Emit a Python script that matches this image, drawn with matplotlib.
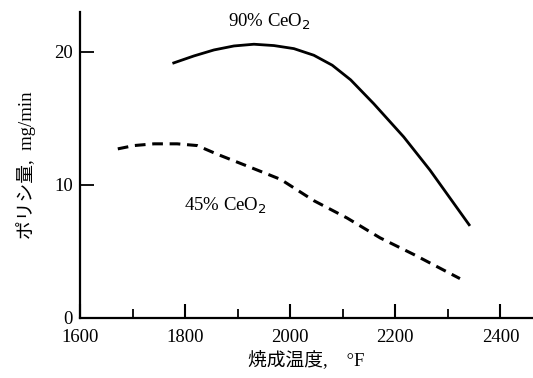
import numpy as np
import matplotlib
matplotlib.use("Agg")
import matplotlib.pyplot as plt
from matplotlib.ticker import MultipleLocator

plt.rcParams['font.family'] = ['Liberation Serif', 'Noto Sans CJK JP', 'DejaVu Sans']

# Data
temp_90 = [1776, 1817, 1855, 1893, 1931, 1969, 2007, 2045, 2080, 2115, 2159, 2216, 2266, 2342]
rate_90 = [19.14, 19.7, 20.15, 20.45, 20.58, 20.48, 20.25, 19.75, 19.0, 17.9, 16.1, 13.6, 11.1, 6.9]
temp_45 = [1672, 1703, 1741, 1785, 1823, 1861, 1925, 1982, 2045, 2108, 2171, 2235, 2323]
rate_45 = [12.7, 12.95, 13.08, 13.08, 12.95, 12.3, 11.3, 10.4, 8.8, 7.5, 6.0, 4.75, 2.93]
label_90 = "90% CeO$_2$"
label_45 = "45% CeO$_2$"
x_ticks = [1600, 1800, 2000, 2200, 2400]
y_ticks = [0, 10, 20]
x_label = "焼成温度,    °F"
y_label = "ポリシ量,  mg/min"

fig = plt.figure(figsize=(5.33, 3.78), dpi=100)
ax = fig.add_axes([0.150, 0.160, 0.850, 0.808])

ax.plot(temp_90, rate_90, color='black', lw=2.0, solid_capstyle='butt', solid_joinstyle='round')
ax.plot(temp_45, rate_45, color='black', lw=2.2, dashes=(3.5, 2.2))

ax.set_xlim(1600, 2462)
ax.set_ylim(0, 23)
ax.set_xticks(x_ticks)
ax.xaxis.set_minor_locator(MultipleLocator(100))
ax.set_yticks(y_ticks)

for s in ['top', 'right']:
    ax.spines[s].set_visible(False)
for s in ['left', 'bottom']:
    ax.spines[s].set_linewidth(1.6)

ax.tick_params(axis='x', which='major', direction='in', length=10, width=1.5, labelsize=13.5, pad=8)
ax.tick_params(axis='x', which='minor', direction='in', length=6.5, width=1.3)
ax.tick_params(axis='y', which='major', direction='in', length=10, width=1.3, labelsize=13.5, pad=5)

ax.text(1960, 22.3, label_90, fontsize=13.5, ha='center', va='center')
ax.text(1877, 8.4, label_45, fontsize=13.5, ha='center', va='center')

ax.set_xlabel(x_label, fontsize=13.5, labelpad=3)
ax.set_ylabel(y_label, fontsize=13.5, labelpad=13)

fig.savefig('out.png', dpi=100)
